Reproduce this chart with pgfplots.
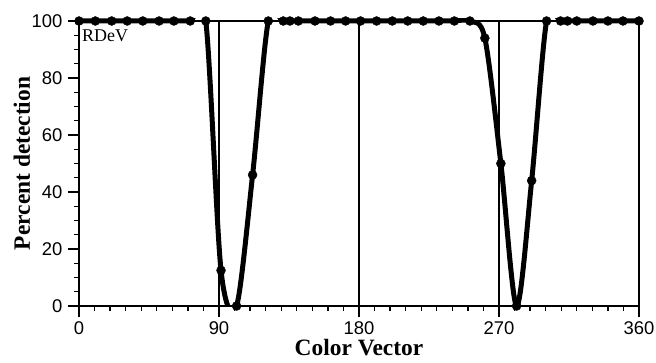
\documentclass[border=0pt]{standalone}
\usepackage{fontspec}
\setmainfont{Liberation Serif}
\setsansfont{Liberation Sans}
\usepackage{pgfplots}
\usepackage{pgfplotstable}
\pgfplotsset{compat=1.18}
\pgfplotstableread{
x y
0 100
10.5 100
21 100
31 100
41 100
51.5 100
61 100
71.5 100
81.5 100
91.3 12.5
101.3 0
111.6 46
121.7 100
131.3 100
135.6 100
141 100
151.7 100
161.7 100
171.4 100
181 100
191.3 100
201.4 100
211.3 100
221.3 100
231.4 100
241.3 100
251.3 100
260.9 94
271.2 50
281.3 0
291 44
300.6 100
309.6 100
314 100
320 100
330.4 100
340 100
349.7 100
360 100
}\datatable
\begin{document}
\begin{tikzpicture}
\begin{axis}[
  scale only axis,
  width=560bp, height=285bp,
  xmin=0, xmax=360, ymin=0, ymax=100,
  clip=false,
  axis x line*=bottom, axis y line*=left,
  axis line style={-, line width=2.8bp},
  xtick={0,90,180,270,360},
  ytick={0,20,40,60,80,100},
  minor x tick num=8,
  minor y tick num=3,
  tick align=outside,
  major tick length=11bp,
  minor tick length=5bp,
  every tick/.style={black, line width=1.4bp},
  /pgf/number format/assume math mode=true,
  ticklabel style={font=\sffamily\fontsize{18.5}{18.5}\selectfont},
  xticklabel style={yshift=-1.5bp},
  yticklabel style={xshift=-2bp},
  xlabel={Color Vector},
  ylabel={Percent detection},
  label style={font=\bfseries\fontsize{23.5}{23.5}\selectfont},
  xlabel style={at={(axis description cs:0.5,-0.147)}, anchor=center},
  ylabel style={at={(axis description cs:-0.1018,0.5)}, anchor=center},
]
\draw[line width=1.1bp] (axis cs:0,100) -- (axis cs:360,100);
\draw[line width=1.1bp] (axis cs:90,0) -- (axis cs:90,100);
\draw[line width=1.1bp] (axis cs:180,0) -- (axis cs:180,100);
\draw[line width=1.1bp] (axis cs:270,0) -- (axis cs:270,100);
\draw[line width=1.4bp] (axis cs:360,0) -- (axis cs:360,100);
\begin{scope}
\clip (axis cs:-5,0) rectangle (axis cs:365,101);
\addplot[black, line width=5bp, smooth, tension=0.5, mark=none] table {\datatable};
\end{scope}
\addplot[black, only marks, mark=*, mark size=4.5bp] table {\datatable};
\node[anchor=north west, inner sep=0pt, font=\fontsize{18}{18}\selectfont] at ([shift={(3bp,-9bp)}]axis cs:0,100) {RDeV};
\end{axis}
\pgfresetboundingbox
\path ([shift={(-79bp,-57bp)}]current axis.south west) rectangle ([shift={(17bp,21bp)}]current axis.north east);
\end{tikzpicture}
\end{document}
